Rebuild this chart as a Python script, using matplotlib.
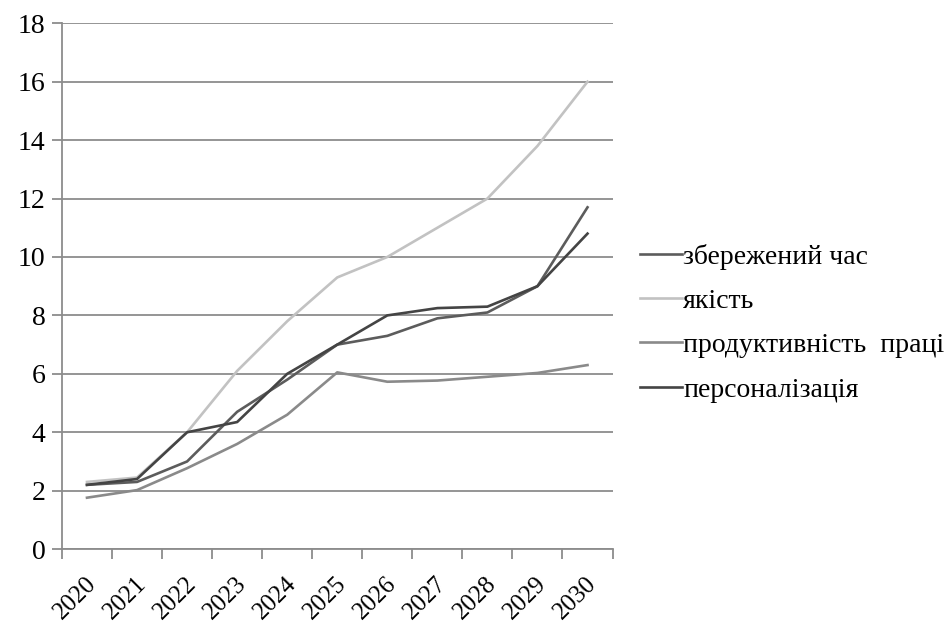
import numpy as np
import matplotlib.pyplot as plt
from matplotlib.transforms import ScaledTranslation

plt.rcParams['font.family'] = ['Liberation Serif', 'DejaVu Serif']

years = ['2020', '2021', '2022', '2023', '2024', '2025',
         '2026', '2027', '2028', '2029', '2030']
saved_time = [2.2, 2.3, 3.0, 4.7, 5.8, 7.0, 7.3, 7.9, 8.1, 9.0, 11.7]
quality = [2.3, 2.45, 4.0, 6.1, 7.8, 9.3, 10.0, 11.0, 12.0, 13.8, 16.0]
productivity = [1.76, 2.02, 2.77, 3.6, 4.6, 6.05, 5.73, 5.77, 5.9, 6.03, 6.3]
personalization = [2.2, 2.4, 4.0, 4.35, 6.0, 7.0, 8.0, 8.25, 8.3, 9.0, 10.8]

labels = ['збережений час', 'якість', 'продуктивність  праці', 'персоналізація']
colors = ['#5c5c5c', '#c2c2c2', '#8a8a8a', '#444444']

fig = plt.figure(figsize=(9.46, 6.29), dpi=100)
ax = fig.add_axes([0.0655, 0.127, 0.582, 0.836])

x = np.arange(len(years))
for vals, lab, c in zip([saved_time, quality, productivity, personalization], labels, colors):
    ax.plot(x, vals, color=c, lw=1.9, label=lab)

ax.set_xlim(-0.5, len(years) - 0.5)
ax.set_ylim(0, 18)
ax.set_yticks(np.arange(0, 19, 2))
ax.yaxis.grid(True, color='#8c8c8c', lw=1.3)
ax.set_axisbelow(True)

# category labels sit between the tick marks
ax.set_xticks(x)
ax.set_xticklabels(years, rotation=45, ha='right', rotation_mode='anchor')
ax.set_xticks(np.arange(-0.5, len(years)), minor=True)
ax.tick_params(axis='x', which='major', length=0, pad=17, labelsize=18)
ax.tick_params(axis='x', which='minor', length=7, width=1.3, color='#8c8c8c', direction='out')
ax.tick_params(axis='y', length=7, width=1.3, color='#8c8c8c', labelsize=20, pad=5)
shift = ScaledTranslation(-2 / 100, 0, fig.dpi_scale_trans)
for t in ax.get_xticklabels():
    t.set_transform(t.get_transform() + shift)

for s in ['top', 'right']:
    ax.spines[s].set_visible(False)
for s in ['left', 'bottom']:
    ax.spines[s].set_color('#8c8c8c')
    ax.spines[s].set_linewidth(1.3)

ax.legend(loc='center left', bbox_to_anchor=(1.05, 0.43), frameon=False,
          fontsize=20, handlelength=1.5, handletextpad=0.05, labelspacing=0.68,
          borderaxespad=0, borderpad=0)

fig.savefig('out.png', dpi=100)
